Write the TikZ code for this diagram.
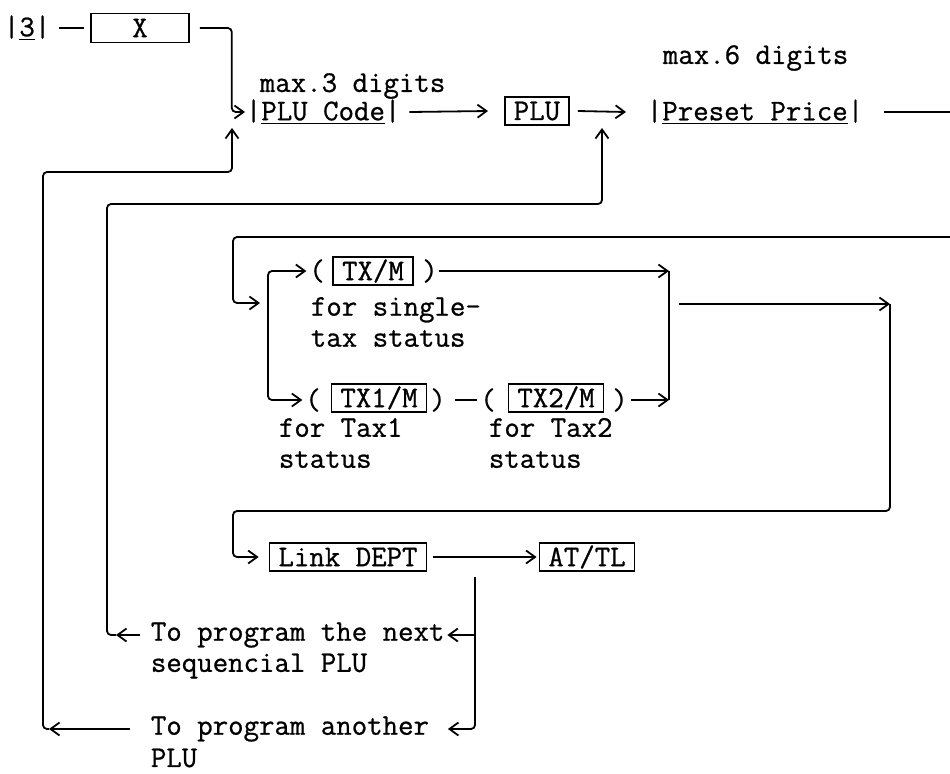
\documentclass[tikz,border=0pt]{standalone}
\usepackage{fontspec}
\setmonofont{Latin Modern Mono}[FakeBold=0.8]
\usepackage{tikz}
\usetikzlibrary{arrows.meta, positioning, calc}

\begin{document}
\begin{tikzpicture}[
    x=0.5pt, y=-0.5pt,
    line width=0.9pt,
    txt/.style={inner sep=0pt, font=\ttfamily\fontsize{15}{15.5}\selectfont, align=left},
    keybox/.style={draw, line width=0.8pt, inner xsep=4.5pt, inner ysep=0pt,
                   minimum height=14pt, font=\ttfamily\fontsize{15}{15.5}\selectfont},
    arr/.style={-{Straight Barb[length=4.5pt, width=6.5pt]}},
    rnd/.style={rounded corners=2pt}
  ]
  \useasboundingbox (0,0) rectangle (950,773);

  % entry row
  \node[txt, anchor=west] (three) at (3,28) {|\underline{3}|};
  \node[keybox, minimum width=49pt, minimum height=14.5pt] (xkey) at (140,28) {X};
  \node[txt, anchor=west] (max3) at (259,86) {max.3 digits};
  \node[txt, anchor=west] (code) at (245,112) {|\underline{PLU Code}|};
  \node[keybox] (plu) at (537,111) {PLU};
  \node[txt, anchor=west] (max6) at (662,58) {max.6 digits};
  \node[txt, anchor=west] (price) at (646,112) {|\underline{Preset Price}|};

  \coordinate (edgeA) at (950,112);
  \coordinate (edgeB) at (950,237);
  \coordinate (upA) at (232,128);
  \coordinate (upB) at (602,128);

  \draw ([xshift=4pt]three.east) -- ([xshift=-3pt]xkey.west);
  \draw[arr, rnd] ([xshift=5pt]xkey.east) -- ++(16pt,0) |- (code.west);
  \draw[arr] ([xshift=4pt]code.east) -- ([xshift=-8pt]plu.west);
  \draw[arr] ([xshift=4pt]plu.east) -- ([xshift=-10pt]price.west);
  \draw ([xshift=10pt]price.east) -- (edgeA);

  % tax status
  \node[txt] (lp1) at (317,271) {(};
  \node[keybox] (txm) at (373,271) {TX/M};
  \node[txt] (rp1) at (430,271) {)};
  \node[txt, anchor=west] (single) at (310,322) {for single-\\tax status};

  \node[txt] (lp2) at (313,400) {(};
  \node[keybox] (tx1) at (379,398) {TX1/M};
  \node[txt] (rp2) at (438,400) {)};
  \node[txt] (lp3) at (488,400) {(};
  \node[keybox] (tx2) at (556,398) {TX2/M};
  \node[txt] (rp3) at (620,400) {)};
  \node[txt, anchor=west] (tax1) at (278,443) {for Tax1\\status};
  \node[txt, anchor=west] (tax2) at (488,443) {for Tax2\\status};

  \coordinate (inT) at (260,303);
  \coordinate (rt) at (669,271);
  \coordinate (rb) at (669,400);
  \coordinate (mo) at (679,304);
  \coordinate (cr) at (890,304);

  \draw[arr, rnd] (edgeB) -| (233,303) -- (inT);
  \draw[arr, rnd] (268,336) |- ([xshift=-1pt]lp1.west);
  \draw[arr, rnd] (268,336) |- ([xshift=-1pt]lp2.west);
  \draw[arr] (rp1.east) -- (rt);
  \draw ([xshift=4pt]rp2.east) -- ([xshift=-1pt]lp3.west);
  \draw[arr] ([xshift=1pt]rp3.east) -- (rb);
  \draw (rt) -- (rb);
  \draw[arr] (mo) -- (cr);

  % department link and finish
  \node[keybox] (link) at (348,557) {Link DEPT};
  \node[keybox] (attl) at (587,557) {AT/TL};
  \draw[arr] ([xshift=3pt]link.east) -- ([xshift=-1pt]attl.west);
  \draw[arr, rnd] (cr) |- (233,511) |- ([xshift=-5pt]link.west);

  \node[txt, anchor=west] (next) at (150,635) {To program the next};
  \node[txt, anchor=west] (seq) at (150,666) {sequencial PLU};
  \node[txt, anchor=west] (another) at (150,729) {To program another};
  \node[txt, anchor=west] (anplu) at (150,758) {PLU};

  \coordinate (dn) at (475,577);
  \coordinate (jn) at (475,635);
  \coordinate (tipN) at (116,635);
  \coordinate (tipA) at (49,729);

  \draw[arr, rnd] (dn) |- ([xshift=9pt]another.east);
  \draw[arr] (jn) -- ([xshift=1pt]next.east);
  \draw[arr] ([xshift=-5pt]next.west) -- (tipN);
  \draw[arr, rnd] (tipN) -| (107,204) -| (upB);
  \draw[arr] ([xshift=-10pt]another.west) -- (tipA);
  \draw[arr, rnd] (tipA) -| (43,172) -| (upA);
\end{tikzpicture}
\end{document}
